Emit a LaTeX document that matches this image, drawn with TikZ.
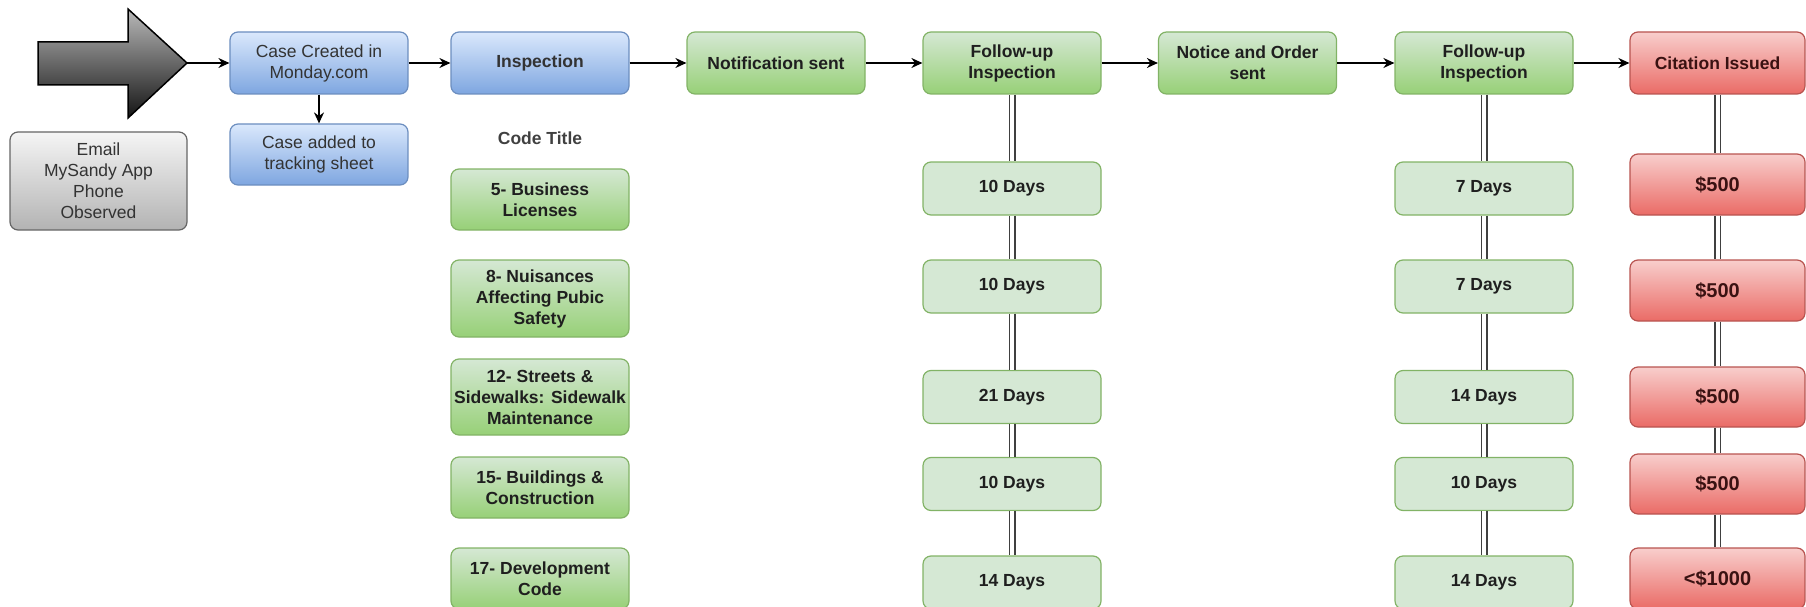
\documentclass[tikz,border=0pt]{standalone}
\usepackage{fontspec}
\setmainfont{Liberation Sans}
\usepackage{xcolor}
\usepackage{tikz}
\usetikzlibrary{arrows.meta}

\definecolor{blueline}{HTML}{6C8EBF}
\definecolor{bluetop}{HTML}{DAE8FC}
\definecolor{bluebot}{HTML}{7EA6E0}
\definecolor{greenline}{HTML}{82B366}
\definecolor{greentop}{HTML}{D5E8D4}
\definecolor{greenbot}{HTML}{97D077}
\definecolor{redline}{HTML}{B85450}
\definecolor{redtop}{HTML}{F8CECC}
\definecolor{redbot}{HTML}{EA6B66}
\definecolor{grayline}{HTML}{666666}
\definecolor{graytop}{HTML}{F5F5F5}
\definecolor{graybot}{HTML}{B3B3B3}
\definecolor{finetext}{HTML}{3A1212}
\newcommand{\diagfont}{\fontsize{17.5}{21}\selectfont}
\newcommand{\finefont}{\fontsize{20}{24}\selectfont}

\begin{document}
\begin{tikzpicture}[
  x=1pt, y=1pt,
  card/.style={rounded corners=8pt, minimum width=178pt, minimum height=62pt, align=center, inner sep=2pt, line width=1.2pt},
  intake/.style={card, draw=blueline, top color=bluetop, bottom color=bluebot, font=\diagfont, text=black!80},
  sourcebox/.style={card, draw=grayline, top color=graytop, bottom color=graybot, font=\diagfont, text=black!80},
  codebox/.style={card, draw=greenline, top color=greentop, bottom color=greenbot, font=\diagfont\bfseries, text=black!88},
  waitbox/.style={card, draw=greenline, fill=greentop, minimum height=53pt, font=\diagfont\bfseries, text=black!88},
  finebox/.style={card, draw=redline, top color=redtop, bottom color=redbot, minimum width=175pt, minimum height=61pt, font=\finefont\bfseries, text=finetext},
  bigarrow/.style={draw=black, line width=1.5pt, top color=gray!55, bottom color=black!92},
  flow/.style={-{Stealth[length=11pt, width=10pt]}, line width=1.5pt},
  link/.style={draw=black!75, double=white, double distance=4pt, line width=1.5pt}
]
  \useasboundingbox (0,0) rectangle (1806,-607);

  % incoming cases
  \draw[bigarrow] (38,-42) -- (128,-42) -- (128,-9) -- (187,-63) -- (128,-118) -- (128,-85) -- (38,-85) -- cycle;
  \coordinate (source) at (187,-63);
  \node[sourcebox, minimum width=177pt, minimum height=98pt] (channels) at (98.5,-181) {Email\\MySandy App\\Phone\\Observed};

  % main line
  \node[intake] (created) at (319,-63) {Case Created in\\Monday.com};
  \node[intake, minimum height=61pt] (tracking) at (319,-154.5) {Case added to\\tracking sheet};
  \node[intake, font=\diagfont\bfseries] (inspect) at (540,-63) {Inspection};
  \node[codebox] (notify) at (776,-63) {Notification sent};
  \node[codebox] (follow1) at (1012,-63) {Follow-up\\Inspection};
  \node[codebox] (order) at (1247.5,-63) {Notice and Order\\sent};
  \node[codebox] (follow2) at (1484,-63) {Follow-up\\Inspection};
  \node[finebox, minimum height=62pt, font=\diagfont\bfseries] (citation) at (1717.5,-63) {Citation Issued};

  % code titles
  \node[font=\diagfont\bfseries, text=black!75] (codetitle) at (540,-138) {Code Title};
  \node[codebox, minimum height=61pt] (code5) at (540,-199.5) {5- Business\\Licenses};
  \node[codebox, minimum height=77pt] (code8) at (540,-298.5) {8- Nuisances\\Affecting Pubic\\Safety};
  \node[codebox, minimum height=76pt] (code12) at (540,-397) {12- Streets \&\\Sidewalks: Sidewalk\\Maintenance};
  \node[codebox, minimum height=61pt] (code15) at (540,-487.5) {15- Buildings \&\\Construction};
  \node[codebox, minimum height=61pt] (code17) at (540,-578.5) {17- Development\\Code};

  % first follow-up deadlines
  \node[waitbox] (waitA1) at (1012,-188.5) {10 Days};
  \node[waitbox] (waitA2) at (1012,-286.5) {10 Days};
  \node[waitbox] (waitA3) at (1012,-397) {21 Days};
  \node[waitbox] (waitA4) at (1012,-484) {10 Days};
  \node[waitbox] (waitA5) at (1012,-582.5) {14 Days};

  % second follow-up deadlines
  \node[waitbox] (waitB1) at (1484,-188.5) {7 Days};
  \node[waitbox] (waitB2) at (1484,-286.5) {7 Days};
  \node[waitbox] (waitB3) at (1484,-397) {14 Days};
  \node[waitbox] (waitB4) at (1484,-484) {10 Days};
  \node[waitbox] (waitB5) at (1484,-582.5) {14 Days};

  % fines
  \node[finebox] (fine1) at (1717.5,-184.5) {\$500};
  \node[finebox] (fine2) at (1717.5,-290.5) {\$500};
  \node[finebox, minimum height=60pt] (fine3) at (1717.5,-397) {\$500};
  \node[finebox, minimum height=60pt] (fine4) at (1717.5,-484) {\$500};
  \node[finebox] (fine5) at (1717.5,-578.5) {<\$1000};

  % arrows
  \draw[flow] (source) -- (created.west);
  \draw[flow] (created.south) -- (tracking.north);
  \draw[flow] (created.east) -- (inspect.west);
  \draw[flow] (inspect.east) -- (notify.west);
  \draw[flow] (notify.east) -- (follow1.west);
  \draw[flow] (follow1.east) -- (order.west);
  \draw[flow] (order.east) -- (follow2.west);
  \draw[flow] (follow2.east) -- (citation.west);

  % double links
  \draw[link] (follow1.south) -- (waitA1.north);
  \draw[link] (waitA1.south) -- (waitA2.north);
  \draw[link] (waitA2.south) -- (waitA3.north);
  \draw[link] (waitA3.south) -- (waitA4.north);
  \draw[link] (waitA4.south) -- (waitA5.north);
  \draw[link] (follow2.south) -- (waitB1.north);
  \draw[link] (waitB1.south) -- (waitB2.north);
  \draw[link] (waitB2.south) -- (waitB3.north);
  \draw[link] (waitB3.south) -- (waitB4.north);
  \draw[link] (waitB4.south) -- (waitB5.north);
  \draw[link] (citation.south) -- (fine1.north);
  \draw[link] (fine1.south) -- (fine2.north);
  \draw[link] (fine2.south) -- (fine3.north);
  \draw[link] (fine3.south) -- (fine4.north);
  \draw[link] (fine4.south) -- (fine5.north);
\end{tikzpicture}
\end{document}
